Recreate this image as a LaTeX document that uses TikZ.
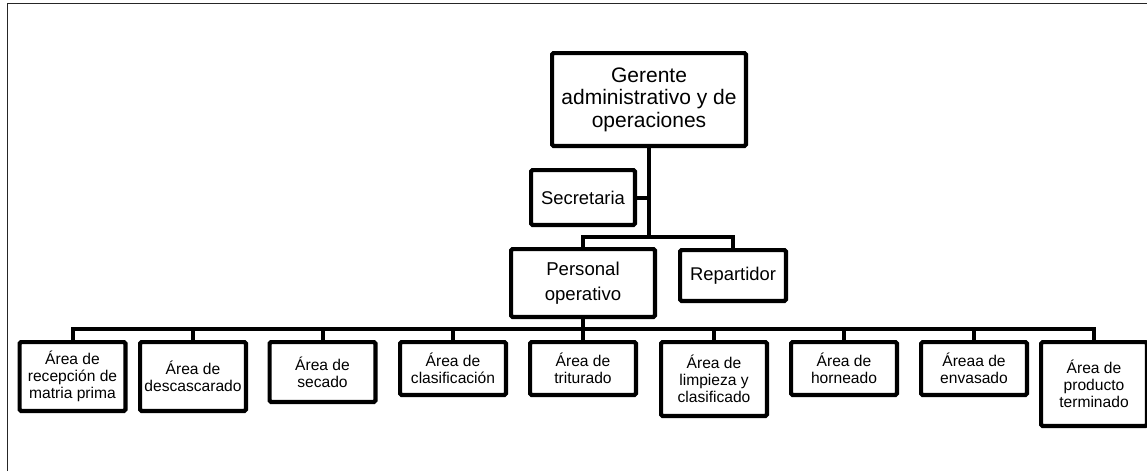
\documentclass[tikz,border=0pt]{standalone}
\usepackage{fontspec}
\setmainfont{Liberation Sans}

\begin{document}
\begin{tikzpicture}[x=1pt,y=-1pt,
    box/.style={draw,line width=4.2pt,rounded corners=1.5pt,outer sep=0pt,
      inner sep=1pt,align=center},
    conn/.style={line width=4pt},
    area/.style={box,anchor=north,minimum width=105.8pt,
      font=\fontsize{15.6}{17}\selectfont}]
  \useasboundingbox (0,0) rectangle (1147,471);
  % marco de la hoja
  \draw[line width=1.8pt,black!85] (7.5,471) -- (7.5,3.5) -- (1147,3.5);

  \node[box,minimum width=193.8pt,minimum height=92.8pt,
    font=\fontsize{21}{22.5}\selectfont] (ger) at (649,99.5)
    {Gerente\\administrativo y de\\operaciones};
  \node[box,minimum width=103.8pt,minimum height=54.8pt,
    font=\fontsize{18.4}{22}\selectfont] (sec) at (583,197.5) {Secretaria};
  \node[box,minimum width=143.8pt,minimum height=67.8pt,
    font=\fontsize{18.6}{25.5}\selectfont] (per) at (583,283)
    {Personal\\operativo};
  \node[box,minimum width=105.8pt,minimum height=50.8pt,
    font=\fontsize{18.4}{22}\selectfont] (rep) at (733,275.5) {Repartidor};

  \foreach \i/\x/\h/\t in {1/72.5/68.8/{Área de\\recepción de\\matria prima},
      2/193/68.8/{Área de\\descascarado},
      3/322.5/59.8/{Área de\\secado},
      4/453/52.8/{Área de\\clasificación},
      5/583/52.8/{Área de\\triturado},
      6/714/73.8/{Área de\\limpieza y\\clasificado},
      7/844/52.8/{Área de\\horneado},
      8/974/52.8/{Áreaa de\\envasado},
      9/1094/83.8/{Área de\\producto\\terminado}}
    \node[area,minimum height=\h pt] (a\i) at (\x,342.1) {\t};

  % conexiones
  \path (ger.south) ++(0,91.5) coordinate (split);
  \path (per.south) ++(0,12.5) coordinate (bus);
  \draw[conn] (ger.south) -- (split);
  \draw[conn] (sec.east) -- (sec.east -| split);
  \draw[conn] (per.north) |- (split) -| (rep.north);
  \draw[conn] (per.south) -- (bus);
  \foreach \i in {1,...,9}
    \draw[conn] (bus) -| (a\i.north);
\end{tikzpicture}
\end{document}
